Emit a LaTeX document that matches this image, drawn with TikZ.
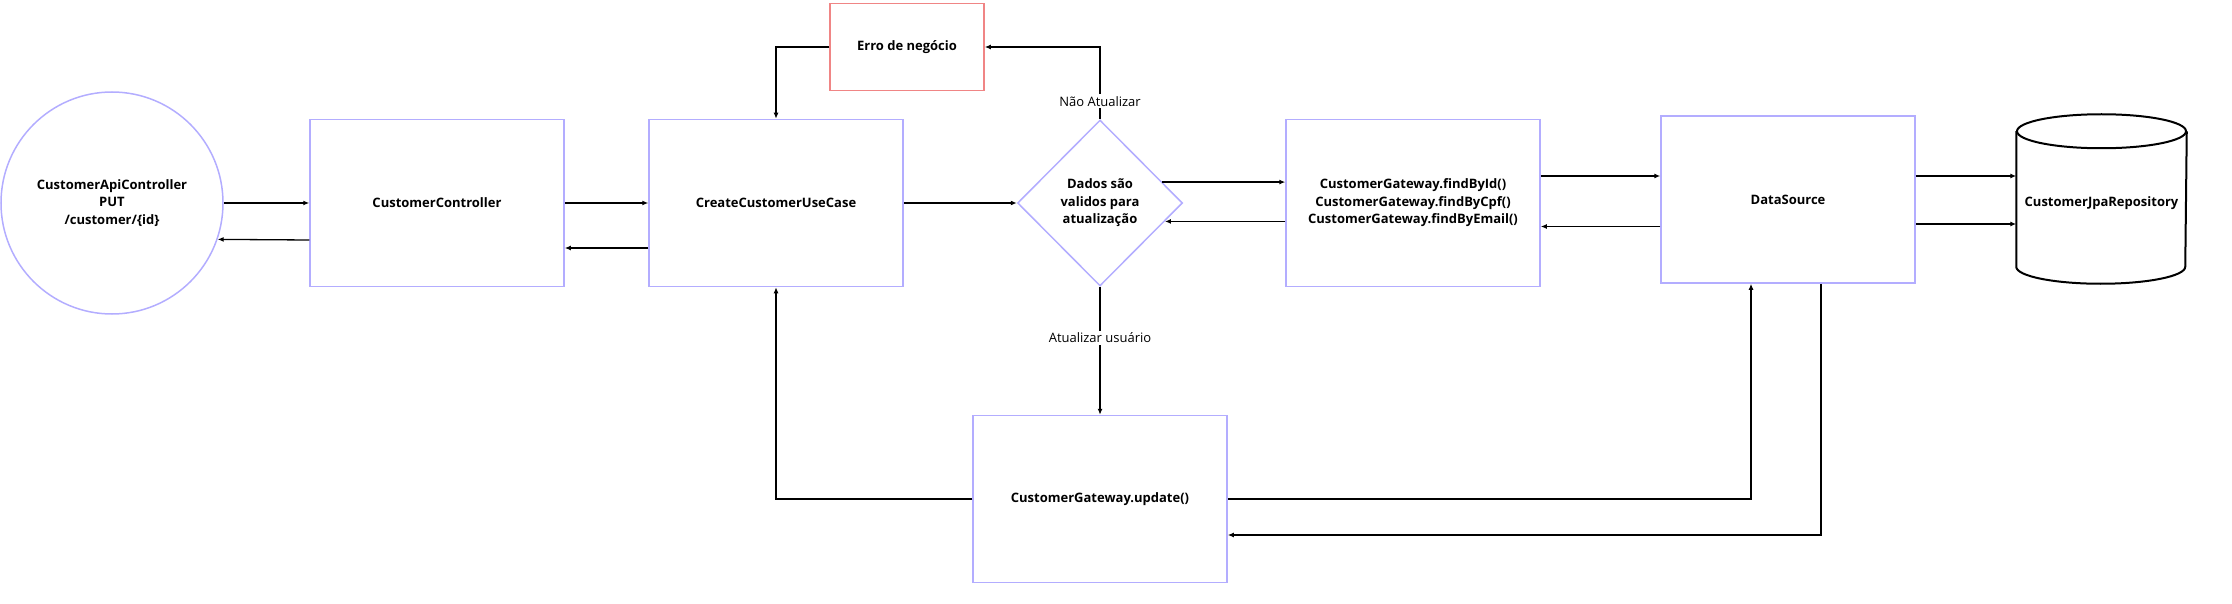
\documentclass[tikz,border=0pt]{standalone}
\usepackage{fontspec}
\setmainfont{Open Sans}
\usepackage{xcolor}
\usetikzlibrary{shapes.geometric,arrows.meta,calc}

\begin{document}
\begin{tikzpicture}[x=1pt,y=-1pt,
  box/.style={draw=lilac,line width=1.5pt,minimum width=254pt,minimum height=167pt,align=center,font=\fontsize{13}{17.5}\selectfont\bfseries},
  flow/.style={line width=1.3pt,-{Latex[length=6pt,width=5pt]}},
  lbl/.style={fill=white,inner sep=2pt,font=\fontsize{13}{17.5}\selectfont}]
\definecolor{lilac}{HTML}{B3ADFF}
\definecolor{coral}{HTML}{F08585}
\useasboundingbox (0,0) rectangle (2232,604);
\node [box,circle,minimum size=222pt] (api) at (112,203) {CustomerApiController\\PUT\\/customer/\{id\}};
\node [box] (cc) at (437,203) {CustomerController};
\node [box] (uc) at (776,203) {CreateCustomerUseCase};
\node [box,draw=coral,minimum width=154pt,minimum height=87pt] (err) at (907,47) {Erro de negócio};
\node [box,diamond,aspect=1,minimum width=165pt,minimum height=166pt,inner sep=0pt] (dec) at (1100,203) {Dados são\\validos para\\atualização};
\node [box] (find) at (1413,203) {CustomerGateway.findById()\\CustomerGateway.findByCpf()\\CustomerGateway.findByEmail()};
\node [box] (ds) at (1788,199.5) {DataSource};
\node [box,draw=none,minimum width=169pt,minimum height=168pt] (repo) at (2101.5,199) {\raisebox{-18pt}{CustomerJpaRepository}};
\node [box] (upd) at (1100,499) {CustomerGateway.update()};
% cylinder
\draw [line width=2pt] ([yshift=-17pt]repo.north) ellipse [x radius=84.5pt,y radius=17pt];
\draw [line width=2pt] ([yshift=-17pt]repo.north west) -- ([yshift=17pt]repo.south west)
  arc [start angle=180,end angle=360,x radius=84.5pt,y radius=17pt] -- ([yshift=-17pt]repo.north east);
% request and response
\draw [flow] (api.east) -- (cc.west);
\draw [flow] ([yshift=-37pt]cc.west) -- (api.-19.5);
\draw [flow] (cc.east) -- (uc.west);
\draw [flow] ([yshift=-45pt]uc.west) -- ([yshift=-45pt]cc.east);
\draw [flow] (uc.east) -- (dec.west);
\coordinate (d1) at ($(dec.east)!0.25!(dec.north)$);
\coordinate (d2) at ($(dec.east)!0.22!(dec.south)$);
\draw [flow] (d1) -- (d1 -| find.west);
\draw [flow] (d2 -| find.west) -- (d2);
\draw [flow] ([yshift=27pt]find.east) -- ([yshift=27pt]find.east -| ds.west);
\draw [flow] ([yshift=-23.5pt]find.east -| ds.west) -- ([yshift=-23.5pt]find.east);
\draw [flow] ([yshift=23.5pt]ds.east) -- ([yshift=23.5pt]ds.east -| repo.west);
\draw [flow] ([yshift=-24.5pt]ds.east) -- ([yshift=-24.5pt]ds.east -| repo.west);
% decision
\draw [flow] (dec.north) -- node [lbl,pos=0.25] {Não Atualizar} (dec.north |- err.east) -- (err.east);
\draw [flow] (err.west) -| (uc.north);
\draw [flow] (dec.south) -- node [lbl,pos=0.4] {Atualizar usuário} (upd.north);
\draw [flow] (upd.west) -| (uc.south);
\draw [flow] (upd.east) -| ([xshift=-37pt]ds.south);
\draw [flow] ([xshift=33pt]ds.south) |- ([yshift=-36pt]upd.east);
\end{tikzpicture}
\end{document}
